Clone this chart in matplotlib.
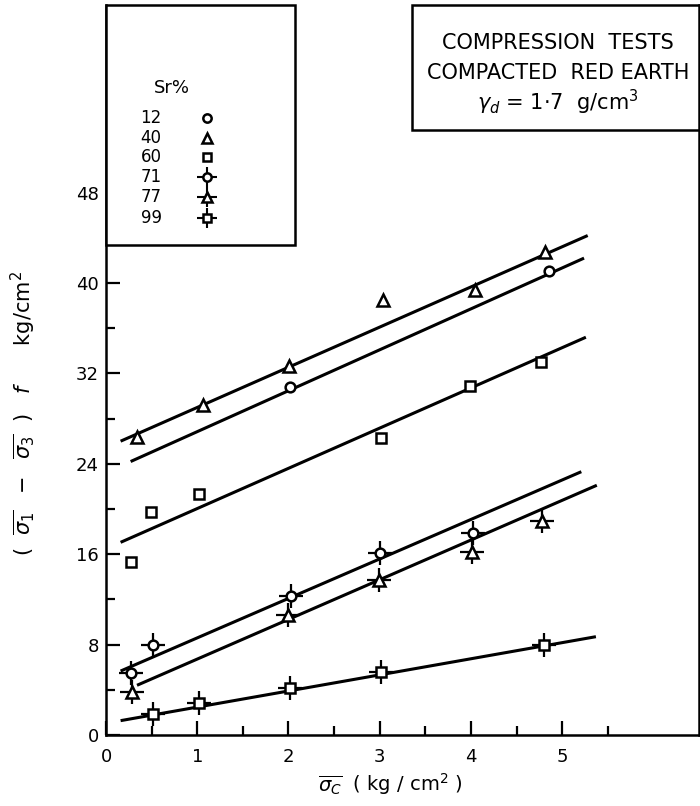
import numpy as np
import matplotlib.pyplot as plt
from matplotlib.patches import Rectangle

# degree of saturation (Sr %) for each test series
sr_labels = ["12", "40", "60", "71", "77", "99"]

x12 = [2.02, 4.86]
y12 = [30.8, 41.1]
x40 = [0.34, 1.06, 2.01, 3.04, 4.05, 4.81]
y40 = [26.4, 29.2, 32.65, 38.5, 39.4, 42.7]
x60 = [0.27, 0.49, 1.02, 3.01, 3.99, 4.77]
y60 = [15.3, 19.7, 21.3, 26.3, 30.9, 33.0]
x71 = [0.27, 0.52, 2.03, 3.0, 4.02]
y71 = [5.46, 7.96, 12.3, 16.1, 17.9]
x77 = [0.29, 1.99, 2.99, 4.01, 4.78]
y77 = [3.8, 10.6, 13.7, 16.2, 18.9]
x99 = [0.52, 1.02, 2.02, 3.01, 4.8]
y99 = [1.83, 2.8, 4.2, 5.55, 7.96]

# end points of the hand drawn best fit lines
fit12_x, fit12_y = [0.27, 5.24], [24.2, 42.2]
fit40_x, fit40_y = [0.16, 5.28], [26.0, 44.2]
fit60_x, fit60_y = [0.16, 5.26], [17.05, 35.2]
fit71_x, fit71_y = [0.16, 5.21], [5.66, 23.3]
fit77_x, fit77_y = [0.34, 5.38], [4.4, 22.1]
fit99_x, fit99_y = [0.16, 5.37], [1.27, 8.7]

series = [
	(x12, y12, fit12_x, fit12_y, 'o', False),
	(x40, y40, fit40_x, fit40_y, '^', False),
	(x60, y60, fit60_x, fit60_y, 's', False),
	(x71, y71, fit71_x, fit71_y, 'o', True),
	(x77, y77, fit77_x, fit77_y, '^', True),
	(x99, y99, fit99_x, fit99_y, 's', True),
]
msize = {'o': 7, '^': 8, 's': 7}

plt.rcParams['font.family'] = 'DejaVu Sans'
plt.rcParams['mathtext.fontset'] = 'dejavusans'

fig = plt.figure(figsize=(7, 8.06), dpi=100)
ax = fig.add_axes([106/700, 71/806, 593/700, 730/806])


def draw_marker(ax, x, y, m, crossed, **kw):
	if crossed:
		ax.plot(x, y, ls='none', marker='+', ms=17, mew=1.6, color='k', zorder=3, **kw)
	ax.plot(x, y, ls='none', marker=m, ms=msize[m], mfc='white', mec='k', mew=1.8, zorder=4, **kw)


for xs, ys, fx, fy, m, crossed in series:
	ax.plot(fx, fy, color='k', lw=2.2, solid_capstyle='butt', zorder=2)
	draw_marker(ax, xs, ys, m, crossed)

ax.set_xlim(0, 6.5)
ax.set_ylim(0, 64.6)
ax.set_xticks([0, 1, 2, 3, 4, 5])
ax.set_xticks(np.arange(0.5, 6, 1.0), minor=True)
ax.set_yticks([0, 8, 16, 24, 32, 40, 48])
ax.set_yticks(np.arange(4, 48, 8), minor=True)
ax.tick_params(which='both', direction='in', width=1.6, labelsize=13)
ax.tick_params(which='major', length=10)
ax.tick_params(which='minor', length=6.5)
ax.tick_params(axis='x', pad=9)
ax.tick_params(axis='y', pad=5)
ax.spines['top'].set_visible(False)
for s in ['left', 'bottom', 'right']:
	ax.spines[s].set_linewidth(1.8)

ax.set_xlabel(r'$\overline{\sigma_C}$  ( kg / cm$^2$ )', fontsize=14)
ax.xaxis.set_label_coords(0.479, -0.05)
ax.set_ylabel(r'$(\ \ \overline{\sigma_1}\ \ -\ \ \overline{\sigma_3}\ \ )\ \ \ f\qquad \mathrm{kg/cm^2}$', fontsize=15)
ax.yaxis.set_label_coords(-0.115, 0.44)

# legend box
ax.add_patch(Rectangle((0.0, 0.671), 0.319, 0.329, transform=ax.transAxes,
	fill=True, fc='white', ec='k', lw=1.8, zorder=5, clip_on=False))
ax.text(0.111, 0.886, 'Sr%', transform=ax.transAxes, ha='center', va='center', fontsize=13, zorder=6)
row_y = [0.845, 0.818, 0.792, 0.764, 0.737, 0.708]
for (xs, ys, fx, fy, m, crossed), lab, yy in zip(series, sr_labels, row_y):
	ax.text(0.076, yy, lab, transform=ax.transAxes, ha='center', va='center', fontsize=12, zorder=6)
	if crossed:
		ax.plot([0.170], [yy], transform=ax.transAxes, ls='none', marker='+', ms=15, mew=1.5,
			color='k', zorder=6, clip_on=False)
	ax.plot([0.170], [yy], transform=ax.transAxes, ls='none', marker=m, ms=msize[m] - 1,
		mfc='white', mec='k', mew=1.8, zorder=7, clip_on=False)

# title box
ax.add_patch(Rectangle((0.516, 0.829), 0.484, 0.171, transform=ax.transAxes,
	fill=True, fc='white', ec='k', lw=1.8, zorder=5, clip_on=False))
ax.text(0.762, 0.948, 'COMPRESSION  TESTS', transform=ax.transAxes, ha='center', va='center', fontsize=15, zorder=6)
ax.text(0.762, 0.907, 'COMPACTED  RED EARTH', transform=ax.transAxes, ha='center', va='center', fontsize=15, zorder=6)
ax.text(0.762, 0.867, r'$\gamma_d$ = 1·7  g/cm$^3$', transform=ax.transAxes, ha='center', va='center', fontsize=15, zorder=6)

fig.savefig('out.png', dpi=100)
